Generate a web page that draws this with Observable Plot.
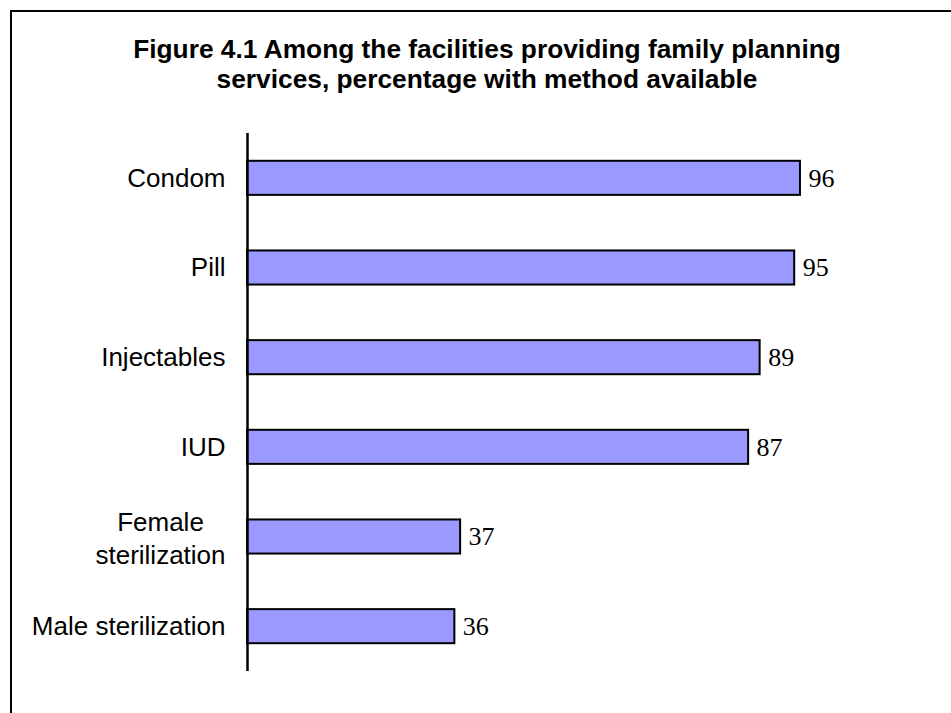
<!DOCTYPE html>
<html>
<head>
<meta charset="utf-8">
<script src="https://cdn.jsdelivr.net/npm/d3@7"></script>
<script src="https://cdn.jsdelivr.net/npm/@observablehq/plot@0.6"></script>
<style>
  html, body { margin: 0; padding: 0; overflow: hidden; background: #fff; width: 951px; height: 713px; }
  #frame { position: absolute; left: 10px; top: 10px; width: 1000px; height: 800px; border: 2px solid #000; box-sizing: border-box; }
  #title { position: absolute; left: 0; top: 34px; width: 974px; text-align: center;
           font-family: "Liberation Sans", Arial, sans-serif; font-weight: bold; font-size: 26.3px; line-height: 30px; color: #000; }
  #chart { position: absolute; left: 0; top: 100px; }
</style>
</head>
<body>
<div id="frame"></div>
<div id="title">Figure 4.1 Among the facilities providing family planning<br>services, percentage with method available</div>
<div id="chart"></div>
<script>
const categories = ["Condom", "Pill", "Injectables", "IUD", "Female\nsterilization", "Male sterilization"];
const values = [96, 95, 89, 87, 37, 36];

const data = categories.map((c, i) => ({category: c, value: values[i]}));
const singleLine = data.filter(d => !d.category.includes("\n"));
const multiLine = data.filter(d => d.category.includes("\n"));

const chart = Plot.plot({
  width: 951,
  height: 613,
  marginLeft: 247,
  marginRight: 128,
  marginTop: 33,
  marginBottom: 42,
  x: {domain: [0, 100], axis: null},
  y: {domain: categories, axis: null, paddingInner: 0.62, paddingOuter: 0.31, round: false},
  marks: [
    Plot.barX(data, {y: "category", x: "value", fill: "#9999FF", stroke: "#000", strokeWidth: 2}),
    Plot.ruleX([0], {stroke: "#000", strokeWidth: 2.5}),
    Plot.text(data, {y: "category", x: "value", text: d => String(d.value), textAnchor: "start", dx: 8,
      fontFamily: "Liberation Serif, Times New Roman, serif", fontSize: 26, fill: "#000"}),
    Plot.text(singleLine, {y: "category", frameAnchor: "left", text: "category", textAnchor: "end", dx: -22,
      fontFamily: "Liberation Sans, Arial, sans-serif", fontSize: 26, fill: "#000"}),
    Plot.text(multiLine, {y: "category", frameAnchor: "left", text: "category", textAnchor: "middle", dx: -87,
      lineHeight: 1.27, fontFamily: "Liberation Sans, Arial, sans-serif", fontSize: 26, fill: "#000"})
  ]
});
document.getElementById("chart").appendChild(chart);
</script>
</body>
</html>
